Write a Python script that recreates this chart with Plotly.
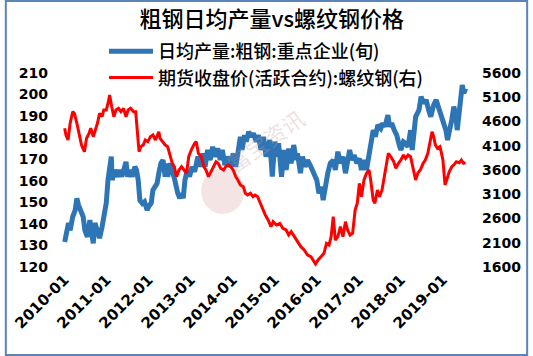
import plotly.graph_objects as go
import pandas as pd

# ---------------- data ----------------
# time as decimal year
steel_t = [2010.00, 2010.03, 2010.09, 2010.13, 2010.19, 2010.25, 2010.29, 2010.33, 2010.39, 2010.44,
           2010.48, 2010.54, 2010.60, 2010.64, 2010.68, 2010.72, 2010.78, 2010.83, 2010.89, 2010.95,
           2010.99, 2011.03, 2011.07, 2011.11, 2011.13, 2011.18, 2011.25, 2011.30, 2011.36, 2011.40,
           2011.46, 2011.50, 2011.56, 2011.61, 2011.67, 2011.71, 2011.75, 2011.79, 2011.85, 2011.90,
           2011.96, 2012.00, 2012.06, 2012.10, 2012.16, 2012.20, 2012.24, 2012.29, 2012.34, 2012.39,
           2012.41, 2012.45, 2012.51, 2012.56, 2012.62, 2012.69, 2012.74, 2012.78, 2012.82, 2012.86,
           2012.92, 2012.97, 2013.03, 2013.09, 2013.17, 2013.23, 2013.29, 2013.34, 2013.40, 2013.46,
           2013.52, 2013.57, 2013.64, 2013.70, 2013.75, 2013.81, 2013.87, 2013.95, 2014.01, 2014.07,
           2014.12, 2014.18, 2014.22, 2014.28, 2014.32, 2014.38, 2014.43, 2014.49, 2014.56, 2014.61,
           2014.67, 2014.73, 2014.79, 2014.84, 2014.88, 2014.94, 2015.00, 2015.06, 2015.09, 2015.16,
           2015.22, 2015.27, 2015.33, 2015.39, 2015.45, 2015.51, 2015.54, 2015.61, 2015.66, 2015.72,
           2015.78, 2015.86, 2015.93, 2016.00, 2016.05, 2016.11, 2016.15, 2016.21, 2016.26, 2016.32,
           2016.39, 2016.44, 2016.50, 2016.56, 2016.62, 2016.68, 2016.73, 2016.78, 2016.83, 2016.89,
           2016.95, 2017.01, 2017.06, 2017.12, 2017.18, 2017.24, 2017.30, 2017.34, 2017.39, 2017.45,
           2017.52, 2017.57, 2017.62, 2017.69, 2017.73, 2017.78, 2017.84, 2017.90, 2017.96, 2018.00,
           2018.06, 2018.11, 2018.17, 2018.23, 2018.27, 2018.35, 2018.43, 2018.48, 2018.54, 2018.60,
           2018.66, 2018.71, 2018.78, 2018.84, 2018.89, 2018.95, 2019.01, 2019.07, 2019.11, 2019.15,
           2019.21, 2019.26, 2019.31, 2019.34, 2019.39, 2019.42, 2019.46, 2019.50, 2019.54]
steel_v = [131.6, 134.0, 140.4, 137.0, 143.3, 146.4, 151.8, 148.7, 146.4, 143.3,
           137.0, 134.0, 141.8, 137.0, 131.0, 140.4, 135.8, 133.4, 138.7, 145.0,
           149.7, 160.3, 166.5, 171.2, 160.3, 165.0, 161.9, 165.0, 161.9, 165.0,
           168.8, 161.9, 165.0, 161.9, 166.5, 165.0, 160.3, 151.0, 149.5, 150.3,
           146.4, 148.0, 149.7, 155.7, 157.2, 158.8, 163.5, 168.1, 169.6, 161.9,
           168.1, 161.9, 168.1, 165.0, 160.3, 154.2, 151.9, 154.2, 151.9, 160.3,
           165.0, 161.9, 166.5, 164.2, 171.2, 166.5, 172.7, 166.5, 174.3, 169.6,
           175.8, 171.2, 175.0, 169.6, 174.3, 167.3, 171.2, 166.5, 172.7, 166.5,
           174.3, 180.4, 174.3, 181.2, 178.1, 182.8, 180.4, 182.0, 178.1, 181.2,
           174.3, 180.4, 171.2, 177.4, 178.9, 161.9, 178.1, 171.2, 177.4, 161.9,
           174.3, 165.0, 175.0, 168.1, 176.6, 169.6, 172.7, 163.5, 171.2, 166.5,
           169.6, 166.5, 163.5, 160.3, 154.2, 157.2, 151.0, 158.8, 163.5, 168.1,
           169.6, 165.0, 173.5, 168.1, 171.2, 163.5, 171.2, 174.3, 169.6, 171.9,
           168.1, 170.4, 165.0, 169.6, 165.0, 172.7, 177.4, 183.5, 180.4, 185.9,
           184.3, 186.7, 185.1, 190.5, 185.1, 186.7, 183.5, 181.2, 176.6, 174.3,
           178.1, 177.4, 175.8, 183.5, 174.3, 189.7, 192.8, 199.0, 195.9, 197.5,
           192.8, 189.7, 195.2, 197.5, 194.4, 191.3, 188.2, 183.5, 178.9, 182.0,
           188.2, 194.4, 189.7, 183.5, 192.8, 199.0, 204.4, 200.6, 202.9]

rebar_t = [2010.00, 2010.03, 2010.08, 2010.13, 2010.19, 2010.23, 2010.29, 2010.34, 2010.40, 2010.47,
           2010.52, 2010.58, 2010.62, 2010.68, 2010.73, 2010.78, 2010.83, 2010.89, 2010.93, 2010.99,
           2011.04, 2011.07, 2011.12, 2011.17, 2011.22, 2011.28, 2011.34, 2011.40, 2011.46, 2011.51,
           2011.57, 2011.64, 2011.69, 2011.73, 2011.77, 2011.81, 2011.87, 2011.92, 2011.98, 2012.04,
           2012.10, 2012.16, 2012.21, 2012.24, 2012.27, 2012.34, 2012.39, 2012.45, 2012.51, 2012.56,
           2012.61, 2012.66, 2012.72, 2012.78, 2012.84, 2012.90, 2012.95, 2013.01, 2013.09, 2013.13,
           2013.18, 2013.25, 2013.31, 2013.36, 2013.42, 2013.48, 2013.54, 2013.60, 2013.65, 2013.71,
           2013.78, 2013.83, 2013.89, 2013.95, 2014.01, 2014.07, 2014.12, 2014.18, 2014.25, 2014.30,
           2014.35, 2014.42, 2014.48, 2014.53, 2014.59, 2014.65, 2014.71, 2014.77, 2014.84, 2014.91,
           2014.96, 2015.04, 2015.12, 2015.19, 2015.27, 2015.33, 2015.39, 2015.47, 2015.54, 2015.62,
           2015.70, 2015.78, 2015.86, 2015.92, 2015.97, 2016.03, 2016.09, 2016.17, 2016.23, 2016.29,
           2016.34, 2016.39, 2016.44, 2016.50, 2016.56, 2016.62, 2016.68, 2016.73, 2016.79, 2016.85,
           2016.91, 2016.96, 2017.01, 2017.06, 2017.12, 2017.18, 2017.24, 2017.28, 2017.34, 2017.38,
           2017.44, 2017.49, 2017.55, 2017.61, 2017.67, 2017.70, 2017.76, 2017.83, 2017.88, 2017.94,
           2018.00, 2018.06, 2018.11, 2018.17, 2018.23, 2018.29, 2018.35, 2018.40, 2018.46, 2018.53,
           2018.58, 2018.64, 2018.70, 2018.74, 2018.78, 2018.82, 2018.87, 2018.93, 2019.00, 2019.05,
           2019.09, 2019.15, 2019.21, 2019.26, 2019.32, 2019.39, 2019.44, 2019.49, 2019.54]
rebar_v = [4460, 4322, 4218, 4563, 4802, 4769, 4563, 4322, 4115, 3977,
           4253, 4356, 4460, 4287, 4425, 4563, 4769, 4699, 4837, 4837,
           5008, 5146, 4905, 4699, 4837, 4872, 4802, 4872, 4699, 4837,
           4872, 4802, 4802, 4425, 3977, 4080, 4115, 4218, 4184, 4287,
           4322, 4218, 4322, 4390, 4253, 4184, 4115, 4080, 3874, 3738,
           3668, 3462, 3600, 3668, 3600, 3532, 3874, 4012, 4150, 4184,
           3944, 3874, 3668, 3600, 3462, 3565, 3635, 3771, 3738, 3635,
           3600, 3668, 3703, 3668, 3600, 3462, 3394, 3291, 3256, 3119,
           3084, 3119, 3050, 3084, 3050, 2913, 2775, 2680, 2569, 2431,
           2534, 2466, 2500, 2397, 2363, 2260, 2328, 2225, 2122, 2019,
           1950, 1847, 1812, 1744, 1662, 1744, 1812, 1882, 2088, 2053,
           2225, 2637, 2156, 2225, 2431, 2225, 2534, 2363, 2260, 2294,
           2775, 2913, 3326, 3050, 3394, 3532, 3600, 3394, 2981, 2913,
           3188, 3050, 3188, 3462, 3806, 3944, 3874, 3771, 3635, 3738,
           3806, 3909, 3841, 3909, 3874, 3600, 3394, 3532, 3600, 3738,
           3806, 3944, 4184, 4390, 4287, 4115, 4047, 4080, 3806, 3291,
           3394, 3565, 3668, 3703, 3771, 3751, 3806, 3738, 3751]

steel_name = "日均产量:粗钢:重点企业(旬)"
rebar_name = "期货收盘价(活跃合约):螺纹钢(右)"
title_text = "粗钢日均产量vs螺纹钢价格"
tick_years = ["2010-01", "2011-01", "2012-01", "2013-01", "2014-01",
              "2015-01", "2016-01", "2017-01", "2018-01", "2019-01"]


def to_dates(ts):
    out = []
    for t in ts:
        y = int(t)
        start = pd.Timestamp(year=y, month=1, day=1)
        end = pd.Timestamp(year=y + 1, month=1, day=1)
        out.append(start + (end - start) * (t - y))
    return out


W, H = 533, 356
ML, MR, MT, MB = 45, 48, 73, 89
PW, PH = W - ML - MR, H - MT - MB

fig = go.Figure()
fig.add_trace(go.Scatter(x=to_dates(steel_t), y=steel_v, name=steel_name, mode="lines",
                         line=dict(color="#2e75b6", width=5), yaxis="y"))
fig.add_trace(go.Scatter(x=to_dates(rebar_t), y=rebar_v, name=rebar_name, mode="lines",
                         line=dict(color="#ff0000", width=3), yaxis="y2"))

ytickfont = dict(family="DejaVu Sans", size=14, color="black", weight="bold")
xtickfont = dict(family="DejaVu Sans", size=15, color="black", weight="bold")
x0 = 2010 - 16 / 42.8
x1 = 2010 + (ML + PW - 61) / 42.8
fig.update_layout(
    width=W, height=H,
    margin=dict(l=ML, r=MR, t=MT, b=MB),
    paper_bgcolor="white", plot_bgcolor="white",
    title=dict(text=title_text, x=0.51, xanchor="center", y=1 - 19 / H, yanchor="middle",
               font=dict(family="Noto Sans CJK SC", size=22, color="black", weight=500)),
    xaxis=dict(type="date", range=to_dates([x0, x1]),
               tickvals=[pd.Timestamp(s + "-01") for s in tick_years],
               ticktext=tick_years, tickangle=-45, tickfont=xtickfont,
               showgrid=False, zeroline=False, showline=False, ticks=""),
    yaxis=dict(range=[120, 210], dtick=10, tick0=120, tickfont=ytickfont,
               showgrid=False, zeroline=False, showline=False, ticks=""),
    yaxis2=dict(range=[1600, 5600], dtick=500, tick0=1600, tickfont=ytickfont,
                overlaying="y", side="right",
                showgrid=False, zeroline=False, showline=False, ticks=""),
    legend=dict(x=(101 - ML) / PW, y=1 + (MT - 33) / PH, xanchor="left", yanchor="top",
                bgcolor="rgba(0,0,0,0)",
                font=dict(family="Noto Sans CJK SC", size=18, color="black", weight=500),
                tracegroupgap=0, itemwidth=44),
    showlegend=True,
)

# watermark
fig.add_annotation(text="富宝资讯", x=(265 - ML) / PW, y=1 - (140 - MT) / PH, xref="paper", yref="paper",
                   showarrow=False, textangle=-35,
                   font=dict(family="Noto Sans CJK SC", size=22, color="rgba(200,150,150,0.30)"))
fig.add_shape(type="circle", xref="paper", yref="paper",
              x0=(200 - ML) / PW, x1=(244 - ML) / PW, y0=1 - (214 - MT) / PH, y1=1 - (168 - MT) / PH,
              fillcolor="rgba(200,120,120,0.20)", line=dict(width=0), layer="below")

# outer border
fig.add_shape(type="rect", xref="paper", yref="paper",
              x0=-(ML - 1) / PW, x1=1 + (MR - 1) / PW, y0=-(MB - 1) / PH, y1=1 + (MT - 1) / PH,
              line=dict(color="#5b84b8", width=2))

fig.write_html("out.html")
